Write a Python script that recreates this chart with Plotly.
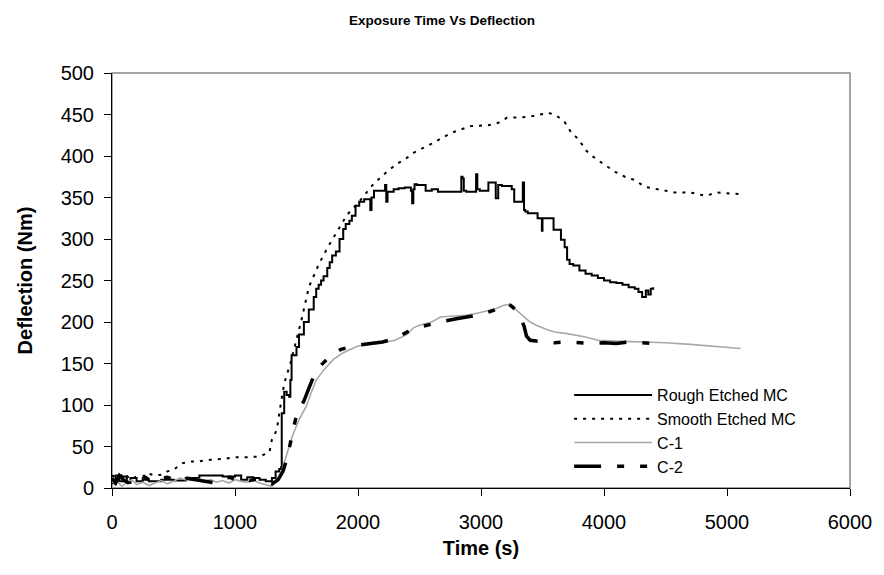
import plotly.graph_objects as go

# ---------------- data ----------------
rough_t = [0, 30, 60, 90, 120, 150, 200, 250, 300, 400, 500, 600, 700, 710, 800, 900, 1000, 1050, 1100,
           1150, 1200, 1250, 1300, 1330, 1360, 1375, 1380, 1400, 1420, 1440, 1450, 1460, 1500, 1520, 1560,
           1580, 1600, 1620, 1640, 1660, 1680, 1700, 1720, 1750, 1770, 1790, 1820, 1850, 1880, 1900, 1930,
           1950, 1980, 2010, 2050, 2080, 2100, 2110, 2130, 2180, 2220, 2230, 2240, 2290, 2330, 2380, 2430,
           2440, 2450, 2460, 2480, 2550, 2600, 2650, 2700, 2750, 2820, 2840, 2850, 2860, 2880, 2950, 2960,
           2970, 2990, 3060, 3100, 3120, 3140, 3150, 3170, 3200, 3250, 3270, 3290, 3320, 3340, 3350, 3360,
           3380, 3410, 3460, 3490, 3495, 3500, 3560, 3590, 3620, 3650, 3680, 3700, 3720, 3750, 3800, 3850,
           3900, 3950, 4000, 4050, 4100, 4150, 4200, 4250, 4280, 4310, 4340, 4360, 4380, 4400]
rough_d = [5, 15, 8, 14, 6, 12, 8, 10, 8, 10, 9, 12, 10, 15, 15, 14, 15, 10, 13,
           12, 10, 8, 12, 20, 23, 25, 90, 116, 112, 110, 130, 160, 170, 185, 200,
           200, 215, 215, 230, 240, 245, 250, 255, 265, 272, 280, 285, 300, 312, 318, 322,
           328, 340, 345, 348, 348, 335, 350, 358, 358, 365, 345, 357, 360, 361, 362, 358,
           343, 360, 366, 365, 358, 360, 357, 357, 357, 357, 375, 373, 358, 357, 357, 378,
           360, 358, 368, 368, 349, 365, 365, 364, 364, 360, 345, 345, 345, 368, 335, 333,
           331, 331, 325, 325, 310, 325, 325, 311, 311, 299, 290, 275, 270, 268, 262, 258,
           256, 253, 250, 248, 247, 245, 242, 240, 236, 230, 238, 233, 240, 242]

smooth_t = [0, 50, 100, 150, 200, 250, 300, 350, 400, 450, 500, 575, 650, 700, 800, 900, 1000, 1100, 1200,
            1280, 1300, 1340, 1360, 1380, 1400, 1450, 1500, 1540, 1600, 1680, 1750, 1850, 1910, 2010, 2130,
            2235, 2310, 2390, 2455, 2600, 2760, 2915, 3060, 3140, 3210, 3385, 3550, 3610, 3680, 3730, 3800,
            3850, 3930, 4010, 4090, 4170, 4250, 4330, 4440, 4575, 4705, 4825, 4920, 5110]
smooth_d = [15, 12, 18, 10, 14, 12, 17, 15, 16, 20, 22, 30, 32, 32, 34, 35, 37, 37, 38,
            43, 58, 70, 90, 106, 126, 150, 180, 202, 242, 269, 289, 315, 329, 345, 367,
            381, 390, 397, 404, 415, 428, 436, 437, 440, 446, 447, 452, 449, 441, 429, 419,
            407, 397, 389, 381, 375, 371, 363, 360, 356, 356, 352, 356, 354]

c1_t = [0, 40, 80, 120, 160, 200, 250, 300, 350, 400, 450, 500, 550, 600, 650, 700, 750, 800, 850, 900,
        950, 1000, 1050, 1100, 1150, 1200, 1250, 1300, 1340, 1376, 1420, 1465, 1520, 1578, 1620, 1660,
        1720, 1800, 1880, 1950, 2000, 2100, 2200, 2300, 2400, 2450, 2500, 2600, 2670, 2750, 2875, 2950,
        3060, 3120, 3180, 3220, 3260, 3300, 3350, 3400, 3450, 3500, 3550, 3600, 3700, 3850, 3950, 4100,
        4300, 4500, 4700, 4900, 5000, 5110]
c1_d = [3, 8, 2, 6, 10, 4, 7, 3, 6, 9, 5, 8, 12, 10, 9, 11, 8, 10, 7, 9,
        6, 10, 8, 7, 9, 6, 4, 2, 8, 18, 40, 62, 82, 98, 115, 130,
        142, 155, 163, 168, 171, 173, 175, 178, 185, 193, 196, 200, 206, 207, 208, 210,
        214, 216, 220, 221, 218, 213, 207, 200, 196, 193, 190, 188, 186, 182, 178, 177,
        176, 175, 173, 171, 170, 168]

c2_t = [0, 30, 60, 100, 150, 200, 260, 320, 380, 450, 520, 600, 680, 760, 840, 900, 960, 1000, 1060,
        1120, 1180, 1240, 1300, 1350, 1390, 1425, 1460, 1497, 1530, 1563, 1627, 1700, 1780, 1860, 1940,
        2000, 2100, 2200, 2300, 2400, 2500, 2600, 2700, 2800, 2900, 3000, 3100, 3150, 3200, 3240, 3280,
        3320, 3350, 3370, 3400, 3450, 3500, 3600, 3700, 3800, 3900, 4000, 4100, 4200, 4300, 4420]
c2_d = [12, 6, 15, 9, 5, 10, 14, 8, 11, 13, 9, 12, 10, 8, 6, 11, 13, 10, 12,
        9, 11, 8, 5, 10, 20, 37, 60, 86, 96, 106, 130, 148, 160, 167, 170,
        172, 174, 176, 180, 188, 194, 198, 201, 204, 206, 209, 214, 218, 222, 220, 215,
        205, 195, 183, 178, 177, 176, 175, 176, 175, 174, 175, 174, 176, 175, 174]

series_names = ["Rough Etched MC", "Smooth Etched MC", "C-1", "C-2"]
x_ticks = [0, 1000, 2000, 3000, 4000, 5000, 6000]
y_ticks = [0, 50, 100, 150, 200, 250, 300, 350, 400, 450, 500]

FONT = "Arial, Liberation Sans, sans-serif"

fig = go.Figure()
fig.add_trace(go.Scatter(x=rough_t, y=rough_d, name=series_names[0], mode="lines",
                         line=dict(color="black", width=2, shape="hv")))
fig.add_trace(go.Scatter(x=smooth_t, y=smooth_d, name=series_names[1], mode="lines",
                         line=dict(color="black", width=2, dash="3px,6px")))
fig.add_trace(go.Scatter(x=c1_t, y=c1_d, name=series_names[2], mode="lines",
                         line=dict(color="#a8a8a8", width=1.6)))
fig.add_trace(go.Scatter(x=c2_t, y=c2_d, name=series_names[3], mode="lines",
                         line=dict(color="black", width=3.5, dash="27px,16px,7px,16px,7px,16px")))

fig.update_layout(
    width=884, height=575,
    margin=dict(l=112, r=31, t=73, b=87),
    paper_bgcolor="white", plot_bgcolor="white",
    font=dict(family=FONT, color="black"),
    title=dict(text="<b>Exposure Time Vs Deflection</b>", x=0.5, xanchor="center",
               y=1 - 20 / 575, yanchor="middle", font=dict(size=13.5, family=FONT, color="black")),
    showlegend=True,
    legend=dict(x=0.6194, y=0.265, xanchor="left", yanchor="top", itemwidth=78,
                bgcolor="rgba(0,0,0,0)", borderwidth=0, tracegroupgap=0,
                font=dict(size=16, family=FONT, color="black")),
    shapes=[dict(type="rect", xref="paper", yref="paper", x0=0, x1=1, y0=0, y1=1,
                 line=dict(color="#888888", width=1.5), layer="below")],
)
fig.update_xaxes(range=[0, 6000], tickvals=x_ticks, ticks="outside", ticklen=7, tickcolor="black",
                 showline=True, linecolor="black", linewidth=1, showgrid=False, zeroline=False,
                 ticklabelstandoff=9,
                 tickfont=dict(size=20, family=FONT, color="black"),
                 title=dict(text="<b>Time (s)</b>", font=dict(size=20, family=FONT, color="black"), standoff=8))
fig.update_yaxes(range=[0, 500], tickvals=y_ticks, ticks="outside", ticklen=7, tickcolor="black",
                 showline=True, linecolor="black", linewidth=1, showgrid=False, zeroline=False,
                 ticklabelstandoff=6,
                 tickfont=dict(size=20, family=FONT, color="black"),
                 title=dict(text="<b>Deflection (Nm)</b>", font=dict(size=20, family=FONT, color="black"), standoff=22))

fig.write_html("out.html")
